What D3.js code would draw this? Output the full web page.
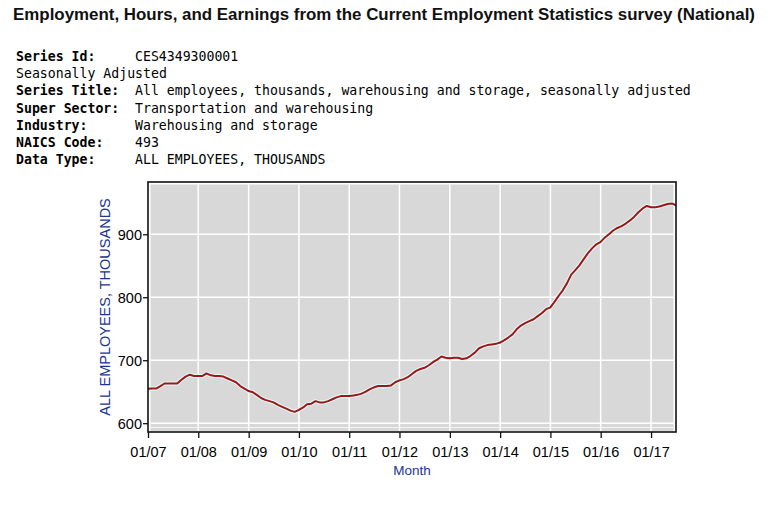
<!DOCTYPE html>
<html lang="en">
<head>
    <meta charset="UTF-8">
    <title>CES4349300001 - Warehousing and storage</title>
    <script src="https://d3js.org/d3.v7.min.js"></script>
    <style>
        body, html { margin: 0; padding: 0; background: #fff; }
        svg { display: block; }
        .tick text { font: 14.5px "Liberation Sans", Arial, sans-serif; fill: #000; }
        .meta { font: 13.2px "DejaVu Sans Mono", monospace; fill: #000; }
        .meta .lbl { font-weight: bold; }
    </style>
</head>
<body>
<svg id="chart" width="768" height="523"></svg>
<script>
// header block
const headerLabels = ["Series Id:", "", "Series Title:", "Super Sector:", "Industry:", "NAICS Code:", "Data Type:"];
const headerValues = ["CES4349300001", "Seasonally Adjusted",
    "All employees, thousands, warehousing and storage, seasonally adjusted",
    "Transportation and warehousing", "Warehousing and storage", "493",
    "ALL EMPLOYEES, THOUSANDS"];

// monthly values, Jan 2007 .. Jul 2017 (thousands)
const startMonth = "2007-01";
const employees = [
    654.6, 655, 655, 659, 663, 663, 663, 663, 669, 674, 677, 675,   // 2007
    675, 675, 679, 676, 675, 675, 674, 671, 668, 665, 659, 655,     // 2008
    651, 649, 645, 640, 637, 635, 633, 629, 626, 623, 620, 618,     // 2009
    621, 625, 630, 631, 635, 633, 633, 635, 638, 641, 643, 643,     // 2010
    643, 644, 645, 647, 650, 654, 657, 659, 659, 659, 660, 665,     // 2011
    668, 670, 673, 678, 683, 686, 688, 692, 697, 701, 706, 704,     // 2012
    703, 704, 704, 702, 703, 707, 712, 719, 722, 724, 725, 726,     // 2013
    728, 732, 736, 741, 749, 755, 759, 762, 765, 770, 775, 781,     // 2014
    784, 793, 802, 811, 822, 836, 843, 851, 861, 870, 878, 884,     // 2015
    888, 895, 900, 906, 910, 913, 917, 922, 928, 935, 941, 945,     // 2016
    943, 943, 944, 946, 948, 949, 946                               // 2017
];
const yTicks = [600, 700, 800, 900];

const svg = d3.select("#chart");
const margin = { left: 148, right: 676, top: 182, bottom: 432 };

// title
svg.append("text")
    .attr("x", 13).attr("y", 20)
    .attr("textLength", 742).attr("lengthAdjust", "spacingAndGlyphs")
    .style("font", "bold 16.5px 'Liberation Sans', Arial, sans-serif")
    .attr("fill", "#111")
    .text("Employment, Hours, and Earnings from the Current Employment Statistics survey (National)");

const meta = svg.append("g").attr("class", "meta");
headerLabels.forEach((l, i) => {
    const y = 61 + i * 17.2;
    if (l) meta.append("text").attr("class", "lbl").attr("x", 16).attr("y", y).text(l);
    meta.append("text").attr("x", l ? 135 : 16).attr("y", y).text(headerValues[i]);
});

const parseMonth = d3.timeParse("%Y-%m");
const t0 = parseMonth(startMonth);
const data = employees.map((v, i) => ({ date: d3.timeMonth.offset(t0, i), value: v }));

const x = d3.scaleTime()
    .domain(d3.extent(data, d => d.date))
    .range([margin.left, margin.right]);
const y = d3.scaleLinear()
    .domain([586, 983])
    .range([margin.bottom, margin.top]);

// plot background
svg.append("rect")
    .attr("x", margin.left).attr("y", margin.top)
    .attr("width", margin.right - margin.left).attr("height", margin.bottom - margin.top)
    .attr("fill", "#fff");
svg.append("rect")
    .attr("x", margin.left + 2.5).attr("y", margin.top + 2.5)
    .attr("width", margin.right - margin.left - 5).attr("height", margin.bottom - margin.top - 3.5)
    .attr("fill", "#d8d8d8");
svg.append("line")
    .attr("x1", margin.left + 2.5).attr("x2", margin.right - 2.5)
    .attr("y1", margin.bottom - 4.5).attr("y2", margin.bottom - 4.5)
    .attr("stroke", "#f4f4f4").attr("stroke-width", 1.2);

// grid
const years = x.ticks(d3.timeYear.every(1));
svg.append("g").selectAll("line").data(years).join("line")
    .attr("x1", d => x(d)).attr("x2", d => x(d))
    .attr("y1", margin.top + 2.5).attr("y2", margin.bottom - 1)
    .attr("stroke", "#fff").attr("stroke-width", 1.5);
svg.append("g").selectAll("line").data(yTicks).join("line")
    .attr("x1", margin.left + 2.5).attr("x2", margin.right - 2.5)
    .attr("y1", d => y(d)).attr("y2", d => y(d))
    .attr("stroke", "#fff").attr("stroke-width", 1.5);

// series
const line = d3.line().x(d => x(d.date)).y(d => y(d.value));
svg.append("path").datum(data)
    .attr("d", line).attr("fill", "none")
    .attr("stroke", "#e4f6f6").attr("stroke-width", 4.2).attr("stroke-linejoin", "round");
svg.append("path").datum(data)
    .attr("d", line).attr("fill", "none")
    .attr("stroke", "#9c1818").attr("stroke-width", 2).attr("stroke-linejoin", "round");

// frame
svg.append("rect")
    .attr("x", margin.left).attr("y", margin.top)
    .attr("width", margin.right - margin.left).attr("height", margin.bottom - margin.top)
    .attr("fill", "none").attr("stroke", "#111").attr("stroke-width", 1.6);

// axes
const xAxis = svg.append("g")
    .attr("transform", `translate(0,${margin.bottom})`)
    .call(d3.axisBottom(x).ticks(d3.timeYear.every(1)).tickFormat(d3.timeFormat("%m/%y")).tickSize(6).tickSizeOuter(0));
xAxis.select(".domain").remove();
xAxis.selectAll(".tick line").attr("stroke", "#111").attr("stroke-width", 1.3);
xAxis.selectAll(".tick text").attr("dy", "1.1em");

const yAxis = svg.append("g")
    .attr("transform", `translate(${margin.left},0)`)
    .call(d3.axisLeft(y).tickValues(yTicks).tickSize(5).tickPadding(1).tickSizeOuter(0));
yAxis.select(".domain").remove();
yAxis.selectAll(".tick line").attr("stroke", "#111").attr("stroke-width", 1.3);
yAxis.selectAll(".tick text").attr("dy", "0.36em");

// axis titles
svg.append("text")
    .attr("transform", `translate(110,${(margin.top + margin.bottom) / 2}) rotate(-90)`)
    .attr("text-anchor", "middle")
    .style("font", "14.5px 'Liberation Sans', Arial, sans-serif")
    .attr("fill", "#1c3494")
    .text("ALL EMPLOYEES, THOUSANDS");
svg.append("text")
    .attr("x", (margin.left + margin.right) / 2).attr("y", 475)
    .attr("text-anchor", "middle")
    .style("font", "13.5px 'Liberation Sans', Arial, sans-serif")
    .attr("fill", "#1c3494")
    .text("Month");
</script>
</body>
</html>
